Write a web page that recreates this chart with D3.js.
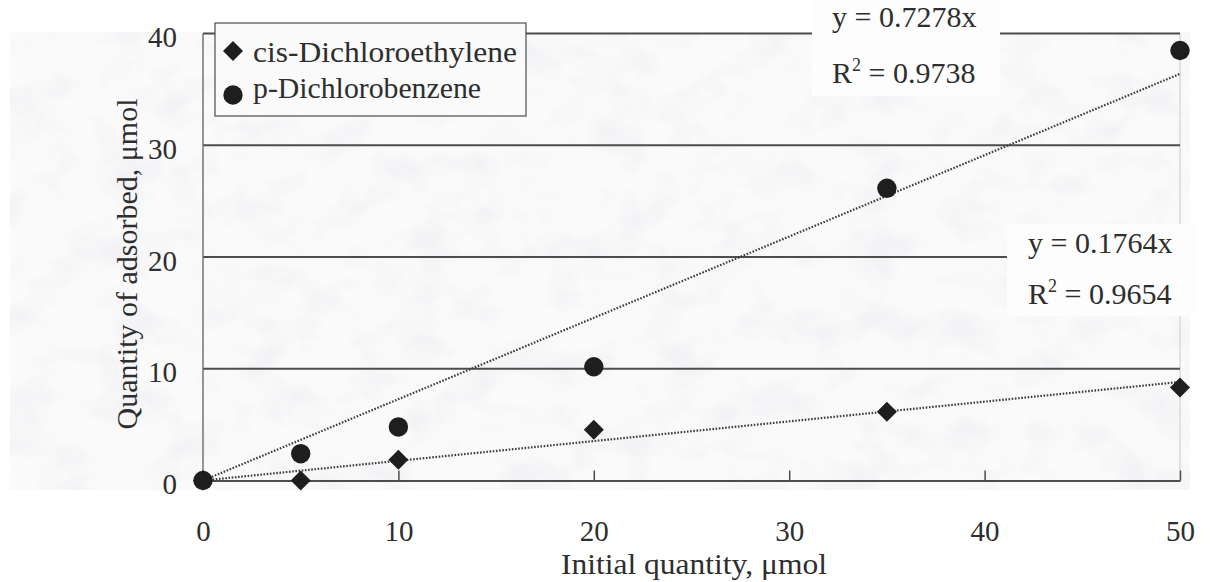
<!DOCTYPE html>
<html>
<head>
<meta charset="utf-8">
<script src="https://cdn.jsdelivr.net/npm/d3@7"></script>
<style>
  html, body { margin: 0; padding: 0; background: #fff; }
  svg { display: block; }
  text { font-family: "Liberation Serif", "Times New Roman", serif; fill: #2e2e2e; }
</style>
</head>
<body>
<svg id="chart" width="1212" height="582"></svg>
<script>
// Initial quantity (µmol) and adsorbed quantity (µmol) for each compound
const initialQty = [0, 5, 10, 20, 35, 50];
const cisDCE     = [0, 0, 1.86, 4.55, 6.16, 8.33];
const pDCB       = [0, 2.4, 4.79, 10.18, 26.15, 38.48];

const seriesNames = ["cis-Dichloroethylene", "p-Dichlorobenzene"];
// Linear fits through the origin: slope and R²
const fitSlopes = [0.1764, 0.7278];
const fitR2     = [0.9654, 0.9738];

const xTicks = [0, 10, 20, 30, 40, 50];
const yTicks = [0, 10, 20, 30, 40];
const xTitle = "Initial quantity, \u03bcmol";
const yTitle = "Quantity of adsorbed,\u00a0\u03bcmol";

const svg = d3.select("#chart");
const x = d3.scaleLinear().domain([0, 50]).range([203, 1180]);
const y = d3.scaleLinear().domain([0, 40]).range([480.5, 33.5]);

// mottled paper-like backdrop behind the plot
const defs = svg.append("defs");
const f = defs.append("filter").attr("id", "mottle")
  .attr("x", 0).attr("y", 0).attr("width", 1).attr("height", 1);
f.append("feTurbulence").attr("type", "fractalNoise")
  .attr("baseFrequency", "0.02 0.026").attr("numOctaves", 4).attr("seed", 11).attr("result", "n");
f.append("feColorMatrix").attr("type", "matrix")
  .attr("values", "0 0 0 0 0.84  0 0 0 0 0.84  0 0 0 0 0.87  -3.2 0 0 0 1.75");
svg.append("rect").attr("x", 10).attr("y", 32).attr("width", 1180).attr("height", 458)
  .attr("fill", "#fafafb");
svg.append("rect").attr("x", 10).attr("y", 32).attr("width", 1180).attr("height", 458)
  .attr("fill", "#fff").attr("filter", "url(#mottle)").attr("opacity", 0.45);

// right frame edge
svg.append("line").attr("x1", x(50)).attr("x2", x(50)).attr("y1", y(40)).attr("y2", y(0))
  .attr("stroke", "#d2d2d2").attr("stroke-width", 1.2);

// horizontal gridlines
svg.append("g").selectAll("line").data(yTicks.filter(d => d > 0)).join("line")
  .attr("x1", x(0)).attr("x2", x(50))
  .attr("y1", d => y(d)).attr("y2", d => y(d))
  .attr("stroke", "#4d4d4d").attr("stroke-width", 1.8);

// left axis line
svg.append("line").attr("x1", x(0)).attr("x2", x(0)).attr("y1", y(40)).attr("y2", y(0))
  .attr("stroke", "#6a6a6a").attr("stroke-width", 1.4);

// x axis with inward ticks
const xAxis = svg.append("g").attr("transform", `translate(0,${y(0)})`)
  .call(d3.axisBottom(x).tickValues(xTicks).tickSizeInner(-10).tickSizeOuter(0).tickPadding(0));
xAxis.select(".domain").attr("stroke", "#4d4d4d").attr("stroke-width", 1.8);
xAxis.selectAll(".tick line").attr("stroke", "#4d4d4d").attr("stroke-width", 1.5);
xAxis.selectAll(".tick text").attr("y", 60).attr("dy", null)
  .style("font-family", "Liberation Serif").style("font-size", "29px").attr("fill", "#333");

// y axis labels only
const yAxis = svg.append("g").attr("transform", `translate(${x(0)},0)`)
  .call(d3.axisLeft(y).tickValues(yTicks).tickSize(0).tickPadding(26));
yAxis.select(".domain").remove();
yAxis.selectAll(".tick text").attr("dy", "0.45em")
  .style("font-family", "Liberation Serif").style("font-size", "29px").attr("fill", "#333");

// axis titles
svg.append("text").attr("x", 694).attr("y", 574).attr("text-anchor", "middle")
  .attr("textLength", 266).attr("lengthAdjust", "spacingAndGlyphs")
  .style("font-size", "29px").text(xTitle);
svg.append("text").attr("transform", "translate(137,264) rotate(-90)").attr("text-anchor", "middle")
  .style("font-size", "30px").text(yTitle);

// dotted trendlines y = slope · x
const trend = d3.line().x(d => x(d[0])).y(d => y(d[1]));
svg.append("g").selectAll("path").data(fitSlopes).join("path")
  .attr("d", s => trend([[0, 0], [50, s * 50]]))
  .attr("fill", "none").attr("stroke", "#3c3c3c").attr("stroke-width", 2.2)
  .attr("stroke-dasharray", "1.6,1.6");

// markers
const pts = svg.append("g");
pts.selectAll("path").data(initialQty.map((q, i) => [q, cisDCE[i]])).join("path")
  .attr("d", d3.symbol().type(d3.symbolSquare).size(200))
  .attr("transform", d => `translate(${x(d[0])},${y(d[1])}) rotate(45)`)
  .attr("fill", "#1e1e1e");
pts.selectAll("circle").data(initialQty.map((q, i) => [q, pDCB[i]])).join("circle")
  .attr("cx", d => x(d[0])).attr("cy", d => y(d[1])).attr("r", 9.7)
  .attr("fill", "#1e1e1e");

// legend
const lg = svg.append("g");
lg.append("rect").attr("x", 215).attr("y", 23).attr("width", 311).attr("height", 93)
  .attr("fill", "#fafafa").attr("stroke", "#5a5a5a").attr("stroke-width", 1.3);
lg.append("path").attr("d", d3.symbol().type(d3.symbolSquare).size(200))
  .attr("transform", "translate(233,51) rotate(45)").attr("fill", "#1e1e1e");
lg.append("circle").attr("cx", 233).attr("cy", 95).attr("r", 9.7).attr("fill", "#1e1e1e");
lg.append("text").attr("x", 253).attr("y", 62).style("font-size", "30px")
  .attr("textLength", 264).attr("lengthAdjust", "spacingAndGlyphs").text(seriesNames[0]);
lg.append("text").attr("x", 253).attr("y", 98).style("font-size", "30px")
  .attr("textLength", 228).attr("lengthAdjust", "spacingAndGlyphs").text(seriesNames[1]);

// equation labels on white patches
const eqs = [
  { box: [1007, 224, 190, 92], x: 1028, y1: 253, y2: 304, i: 0 },
  { box: [812, 0, 188, 96], x: 832, y1: 27, y2: 83, i: 1 }
];
eqs.forEach(e => {
  svg.append("rect").attr("x", e.box[0]).attr("y", e.box[1])
    .attr("width", e.box[2]).attr("height", e.box[3]).attr("fill", "#fdfdfd");
  svg.append("text").attr("x", e.x).attr("y", e.y1).style("font-size", "30px")
    .text(`y = ${fitSlopes[e.i].toFixed(4)}x`);
  const t = svg.append("text").attr("x", e.x).attr("y", e.y2).style("font-size", "30px");
  t.append("tspan").text("R");
  t.append("tspan").attr("dy", -12).style("font-size", "18px").text("2");
  t.append("tspan").attr("dy", 12).text(` = ${fitR2[e.i].toFixed(4)}`);
});
</script>
</body>
</html>
